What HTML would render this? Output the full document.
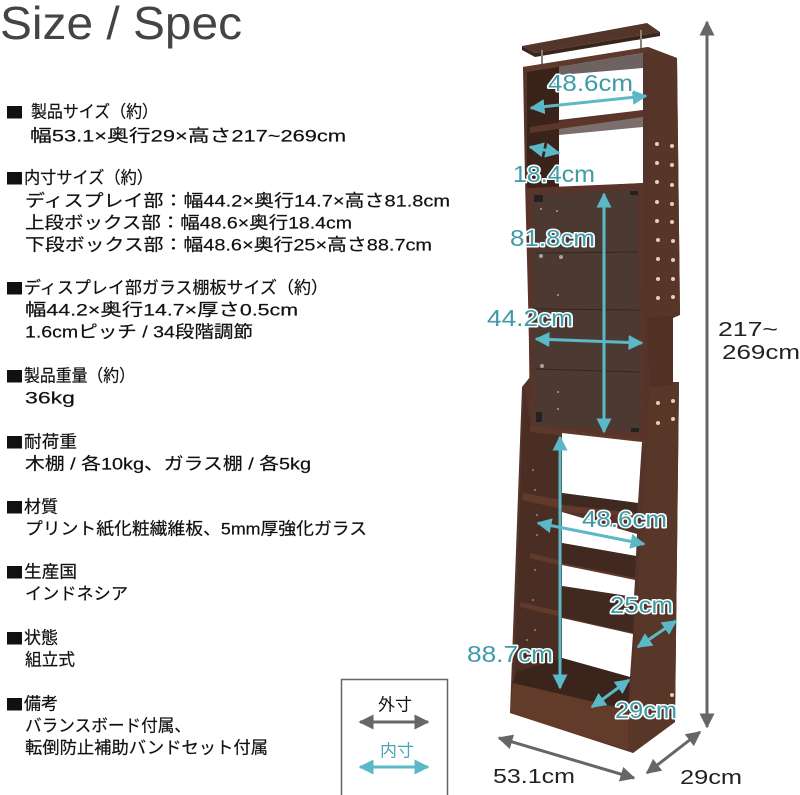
<!DOCTYPE html>
<html lang="ja"><head><meta charset="utf-8"><title>Size / Spec</title>
<style>
html,body{margin:0;padding:0;background:#fff}
svg{display:block}
.t{font-family:"Liberation Sans","Noto Sans CJK JP",sans-serif;font-size:17px;fill:#111;stroke:#111;stroke-width:.2px;dominant-baseline:central}
.l{font-family:"Liberation Sans",sans-serif;font-size:23px;fill:#3f9aa5;stroke:#fff;stroke-width:3px;paint-order:stroke;stroke-linejoin:round;dominant-baseline:central}
.g{font-family:"Liberation Sans",sans-serif;font-size:20px;fill:#222;dominant-baseline:central}
</style></head><body>
<svg xmlns="http://www.w3.org/2000/svg" width="800" height="795" viewBox="0 0 800 795">
<defs>
<marker id="mg" viewBox="0 0 10 10" refX="9" refY="5" markerUnits="userSpaceOnUse" markerWidth="15" markerHeight="15" orient="auto-start-reverse"><path d="M0 0L10 5L0 10Z" fill="#666"/></marker>
<marker id="mt" viewBox="0 0 10 10" refX="9" refY="5" markerUnits="userSpaceOnUse" markerWidth="15" markerHeight="15" orient="auto-start-reverse"><path d="M0 0L10 5L0 10Z" fill="#5bb8c6"/></marker>
</defs>
<text x="0" y="23" font-family="Liberation Sans, sans-serif" font-size="46" fill="#444" dominant-baseline="central" textLength="242" lengthAdjust="spacingAndGlyphs">Size / Spec</text>

<g fill="#111">
<rect x="7" y="106" width="15" height="12.5"/><rect x="7" y="172" width="15" height="12.5"/><rect x="7" y="282" width="15" height="12.5"/><rect x="7" y="370" width="15" height="12.5"/><rect x="7" y="436" width="15" height="12.5"/><rect x="7" y="501" width="15" height="12.5"/><rect x="7" y="566" width="15" height="12.5"/><rect x="7" y="632" width="15" height="12.5"/><rect x="7" y="698" width="15" height="12.5"/>
</g>
<text class="t" x="31" y="112" textLength="127" lengthAdjust="spacingAndGlyphs">製品サイズ（約）</text>
<text class="t" x="30" y="136" textLength="316" lengthAdjust="spacingAndGlyphs">幅53.1×奥行29×高さ217~269cm</text>
<text class="t" x="24" y="178" textLength="129" lengthAdjust="spacingAndGlyphs">内寸サイズ（約）</text>
<text class="t" x="25" y="201" textLength="425" lengthAdjust="spacingAndGlyphs">ディスプレイ部：幅44.2×奥行14.7×高さ81.8cm</text>
<text class="t" x="25" y="223" textLength="327" lengthAdjust="spacingAndGlyphs">上段ボックス部：幅48.6×奥行18.4cm</text>
<text class="t" x="25" y="245" textLength="407" lengthAdjust="spacingAndGlyphs">下段ボックス部：幅48.6×奥行25×高さ88.7cm</text>
<text class="t" x="24" y="288" textLength="304" lengthAdjust="spacingAndGlyphs">ディスプレイ部ガラス棚板サイズ（約）</text>
<text class="t" x="25" y="310" textLength="273" lengthAdjust="spacingAndGlyphs">幅44.2×奥行14.7×厚さ0.5cm</text>
<text class="t" x="25" y="332" textLength="228" lengthAdjust="spacingAndGlyphs">1.6cmピッチ / 34段階調節</text>
<text class="t" x="24" y="376" textLength="111" lengthAdjust="spacingAndGlyphs">製品重量（約）</text>
<text class="t" x="25" y="398" textLength="50" lengthAdjust="spacingAndGlyphs">36kg</text>
<text class="t" x="24" y="442" textLength="53" lengthAdjust="spacingAndGlyphs">耐荷重</text>
<text class="t" x="25" y="464" textLength="286" lengthAdjust="spacingAndGlyphs">木棚 / 各10kg、ガラス棚 / 各5kg</text>
<text class="t" x="24" y="507" textLength="34" lengthAdjust="spacingAndGlyphs">材質</text>
<text class="t" x="25" y="529" textLength="342" lengthAdjust="spacingAndGlyphs">プリント紙化粧繊維板、5mm厚強化ガラス</text>
<text class="t" x="24" y="572" textLength="53" lengthAdjust="spacingAndGlyphs">生産国</text>
<text class="t" x="25" y="594" textLength="103" lengthAdjust="spacingAndGlyphs">インドネシア</text>
<text class="t" x="24" y="638" textLength="34" lengthAdjust="spacingAndGlyphs">状態</text>
<text class="t" x="25" y="660" textLength="50" lengthAdjust="spacingAndGlyphs">組立式</text>
<text class="t" x="24" y="704" textLength="34" lengthAdjust="spacingAndGlyphs">備考</text>
<text class="t" x="25" y="726" textLength="166" lengthAdjust="spacingAndGlyphs">バランスボード付属、</text>
<text class="t" x="25" y="748" textLength="243" lengthAdjust="spacingAndGlyphs">転倒防止補助バンドセット付属</text>

<!-- legend -->
<path d="M341.5 795V679.5H447.5V795" fill="none" stroke="#666" stroke-width="1.5"/>
<text x="378" y="705" font-family="Liberation Sans, Noto Sans CJK JP, sans-serif" font-size="17" fill="#111" dominant-baseline="central">外寸</text>
<text x="380" y="751" font-family="Liberation Sans, Noto Sans CJK JP, sans-serif" font-size="17" fill="#4ba6b3" dominant-baseline="central">内寸</text>
<line x1="360" y1="722" x2="428" y2="722" stroke="#666" stroke-width="3" marker-start="url(#mg)" marker-end="url(#mg)"/>
<line x1="360" y1="767" x2="428" y2="767" stroke="#5bb8c6" stroke-width="3" marker-start="url(#mt)" marker-end="url(#mt)"/>

<!-- top board -->
<path d="M522 46L647 23L660 32L535 53Z" fill="#54352a"/>
<path d="M522 46L535 53L660 32V36L535 57L522 50Z" fill="#3a241b"/>
<rect x="541" y="50" width="2" height="22" fill="#8a8078"/>
<rect x="640" y="30" width="2" height="20" fill="#8a8078"/>

<!-- body -->
<path d="M523 67L648 47L677 58L680 315L673 318V382L679 382L675 722L633 753L510 713L522 387L530 377L525 180Z" fill="#54332a"/>
<path d="M648 47L677 58L680 315L647 318Z" fill="#573629"/>
<path d="M650 387L679 382L675 722L628 750Z" fill="#583729"/>
<path d="M647 318L673 316V385L650 387Z" fill="#523024"/>
<path d="M523 67L648 47L648 52L527 72Z" fill="#5e3a2c"/>
<path d="M527 72L559 67V188H527Z" fill="#3a2319"/>
<path d="M559 67L643 53V110L559 120Z" fill="#fff"/>
<path d="M559 67L643 53V68L559 75Z" fill="#6d6260"/>
<path d="M559 127L643 117V183L559 188Z" fill="#fff"/>
<path d="M559 127L643 117V127L559 135Z" fill="#7a6f6c"/>
<path d="M530 127L643 110V117L530 133Z" fill="#5c3729"/>
<!-- display frame -->
<path d="M527 188L645 183L647 441L530 428Z" fill="#58342a"/>
<path d="M533 195L638 190L640 432L535 425Z" fill="#4c3a32"/>
<path d="M535 253L638 252M535 309L639 310M536 369L640 372" stroke="#33261f" stroke-width="1"/>
<rect x="534" y="195" width="9" height="7" fill="#222"/><rect x="630" y="191" width="8" height="4" fill="#222"/>
<rect x="536" y="412" width="6" height="10" fill="#222"/><rect x="631" y="428" width="8" height="4" fill="#222"/>
<g fill="#a9a39c"><circle cx="541" cy="209" r="1"/><circle cx="557" cy="211" r="1"/><circle cx="541" cy="256" r="2"/><circle cx="561" cy="257" r="2"/><circle cx="542" cy="366" r="2"/><circle cx="558" cy="392" r="1"/><circle cx="558" cy="409" r="1"/><circle cx="558" cy="295" r="1"/></g>
<!-- lower -->
<path d="M524 388L531 425L530 432L562 436V688L514 683Z" fill="#4a2e23"/>
<path d="M530 425L645 440L645 444L530 432Z" fill="#5e382a"/>
<path d="M562 433L642 442L638 503L562 493Z" fill="#fff"/>
<path d="M562 493L638 503L637 513L562 505Z" fill="#3f2a22"/>
<path d="M562 505L637 513V516L562 512Z" fill="#63392a"/>
<path d="M562 512L637 534L636 556L562 543Z" fill="#fff"/>
<path d="M562 543L636 556L635 578L562 563Z" fill="#42291f"/>
<path d="M562 563L635 578V580L562 565Z" fill="#63392a"/>
<path d="M562 565L635 580L634 597L562 586Z" fill="#fff"/>
<path d="M562 586L634 597L633 633L562 617Z" fill="#42291f"/>
<path d="M562 617L633 633V634L562 618Z" fill="#63392a"/>
<path d="M562 618L633 634L630 677L562 658Z" fill="#fff"/>
<path d="M562 658L630 677L628 710L513 683L516 672Z" fill="#3a241b"/>
<path d="M523 493L562 500V509L522 500ZM530 553L562 561V566L530 558ZM520 602L562 612V617L520 607Z" fill="#613a2b"/>
<path d="M513 683L628 710L628 750L510 713Z" fill="#633b2b"/>
<path d="M628 712L639 705L675 695V722L633 753L628 750Z" fill="#583729"/>
<g fill="#9a8674">
<circle cx="533" cy="470" r="1"/><circle cx="535" cy="490" r="1"/><circle cx="537" cy="515" r="1"/><circle cx="537" cy="535" r="1"/><circle cx="535" cy="570" r="1"/><circle cx="533" cy="600" r="1"/><circle cx="527" cy="640" r="1"/><circle cx="535" cy="630" r="1"/>
</g>

<!-- pegs -->
<g fill="#e6cfae">
<circle cx="657" cy="144" r="2"/><circle cx="672" cy="146" r="2"/><circle cx="657" cy="163" r="2"/><circle cx="672" cy="165" r="2"/><circle cx="657" cy="182" r="2"/><circle cx="672" cy="185" r="2"/><circle cx="657" cy="202" r="2"/><circle cx="672" cy="204" r="2"/><circle cx="657" cy="221" r="2"/><circle cx="672" cy="222" r="2"/><circle cx="658" cy="240" r="2"/><circle cx="673" cy="241" r="2"/><circle cx="658" cy="259" r="2"/><circle cx="673" cy="260" r="2"/><circle cx="658" cy="279" r="2"/><circle cx="673" cy="279" r="2"/><circle cx="658" cy="298" r="2"/><circle cx="673" cy="297" r="2"/><circle cx="658" cy="403" r="2"/><circle cx="673" cy="401" r="2"/><circle cx="658" cy="423" r="2"/><circle cx="673" cy="419" r="2"/><circle cx="672" cy="695" r="2"/>
</g>

<!-- outer arrows -->
<g stroke="#666" stroke-width="3" fill="none">
<line x1="707" y1="22" x2="707" y2="727" marker-start="url(#mg)" marker-end="url(#mg)"/>
<line x1="499" y1="738" x2="634" y2="778" marker-start="url(#mg)" marker-end="url(#mg)"/>
<line x1="700" y1="732" x2="647" y2="773" marker-start="url(#mg)" marker-end="url(#mg)"/>
</g>
<!-- inner arrows -->
<g stroke="#5bb8c6" stroke-width="3" fill="none">
<line x1="531" y1="108" x2="646" y2="96" marker-start="url(#mt)" marker-end="url(#mt)"/>
<line x1="530" y1="147" x2="559" y2="153" marker-start="url(#mt)" marker-end="url(#mt)"/>
<line x1="604" y1="194" x2="604" y2="432" marker-start="url(#mt)" marker-end="url(#mt)"/>
<line x1="536" y1="339" x2="642" y2="343" marker-start="url(#mt)" marker-end="url(#mt)"/>
<line x1="560" y1="437" x2="560" y2="688" marker-start="url(#mt)" marker-end="url(#mt)"/>
<line x1="538" y1="523" x2="644" y2="544" marker-start="url(#mt)" marker-end="url(#mt)"/>
<line x1="638" y1="647" x2="676" y2="621" marker-start="url(#mt)" marker-end="url(#mt)"/>
<line x1="592" y1="707" x2="629" y2="680" marker-start="url(#mt)" marker-end="url(#mt)"/>
</g>

<!-- labels -->
<text class="l" x="548" y="83" textLength="85" lengthAdjust="spacingAndGlyphs">48.6cm</text>
<text class="l" x="513" y="174" textLength="82" lengthAdjust="spacingAndGlyphs">18.4cm</text>
<text class="l" x="510" y="238" textLength="85" lengthAdjust="spacingAndGlyphs">81.8cm</text>
<text class="l" x="487" y="318" textLength="86" lengthAdjust="spacingAndGlyphs">44.2cm</text>
<text class="l" x="582" y="519" textLength="85" lengthAdjust="spacingAndGlyphs">48.6cm</text>
<text class="l" x="610" y="605" textLength="63" lengthAdjust="spacingAndGlyphs">25cm</text>
<text class="l" x="467" y="654" textLength="86" lengthAdjust="spacingAndGlyphs">88.7cm</text>
<text class="l" x="615" y="710" textLength="62" lengthAdjust="spacingAndGlyphs">29cm</text>
<text class="g" x="718" y="330" textLength="60" lengthAdjust="spacingAndGlyphs">217~</text>
<text class="g" x="722" y="353" textLength="78" lengthAdjust="spacingAndGlyphs">269cm</text>
<text class="g" x="493" y="777" textLength="82" lengthAdjust="spacingAndGlyphs">53.1cm</text>
<text class="g" x="680" y="778" textLength="62" lengthAdjust="spacingAndGlyphs">29cm</text>
</svg>
</body></html>
